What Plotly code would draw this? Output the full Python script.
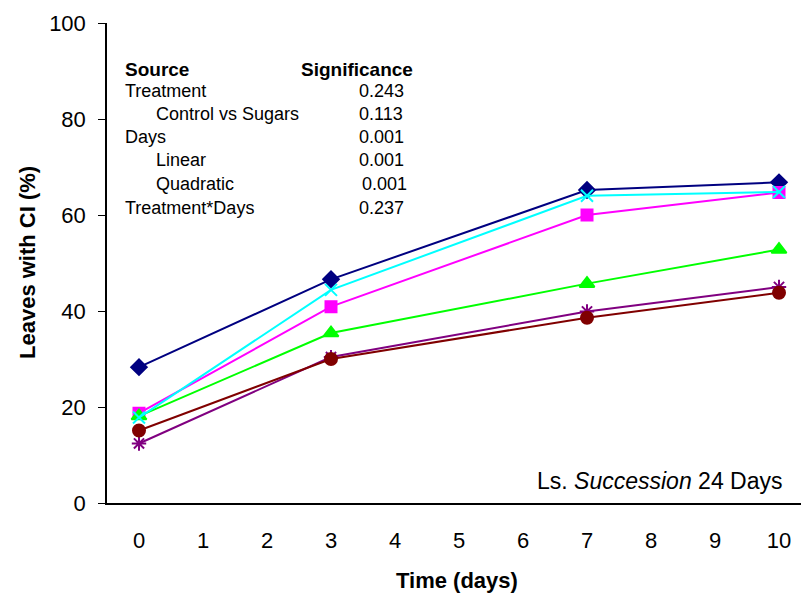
import plotly.graph_objects as go

# Sampling days and percentage of leaves showing chilling injury
days = [0, 3, 7, 10]
series_names = ["Series 1", "Series 2", "Series 3", "Series 4", "Series 5", "Series 6"]
navy_vals = [28.3, 46.6, 65.2, 66.8]
magenta_vals = [18.7, 40.9, 60.0, 64.7]
green_vals = [18.1, 35.4, 45.7, 52.8]
cyan_vals = [17.8, 44.4, 64.0, 64.8]
purple_vals = [12.4, 30.4, 39.9, 45.0]
maroon_vals = [15.1, 30.0, 38.6, 43.8]

x_ticks = list(range(0, 11))
y_ticks = [0, 20, 40, 60, 80, 100]

# ANOVA summary table
table_rows = [
    ("Treatment", "0.243", 0),
    ("Control vs Sugars", "0.113", 1),
    ("Days", "0.001", 0),
    ("Linear", "0.001", 1),
    ("Quadratic", "0.001", 1),
    ("Treatment*Days", "0.237", 0),
]

styles = [
    (navy_vals, "#000080", "diamond", 12),
    (magenta_vals, "#FF00FF", "square", 11),
    (green_vals, "#00FF00", "triangle-up", 13),
    (cyan_vals, "#00FFFF", "x-thin-open", 12),
    (purple_vals, "#800080", "asterisk-open", 12),
    (maroon_vals, "#800000", "circle", 12),
]

fig = go.Figure()
for name, (vals, color, symbol, size) in zip(series_names, styles):
    fig.add_trace(go.Scatter(
        x=days, y=vals, name=name, mode="lines+markers",
        line=dict(color=color, width=2),
        marker=dict(symbol=symbol, size=size, color=color,
                    line=dict(color=color, width=2)),
        showlegend=False,
    ))

FONT = "Liberation Sans, Arial, sans-serif"

# plot area in pixels
L, R, T, B = 107, 801, 23, 503
def px(xp):
    return (xp - L) / (R - L)
def py(yp):
    return (B - yp) / (B - T)

def note(x, y, text, size, anchor="left", angle=0):
    return dict(x=px(x), y=py(y), text=text, showarrow=False,
                xref="paper", yref="paper", xanchor=anchor, yanchor="middle",
                textangle=angle, font=dict(family=FONT, size=size, color="black"))

ann = [
    note(123, 69, "<b>Source</b>", 19),
    note(299, 69, "<b>Significance</b>", 19),
]
row_y = [91, 114, 137, 160, 184, 208]
for (label, val, indent), yy in zip(table_rows, row_y):
    ann.append(note(123 + 31 * indent, yy, label, 18))
    ann.append(note(360 if label == "Quadratic" else 357, yy, val, 18))

ann.append(note(784, 481, "Ls. <i>Succession</i> 24 Days", 23, anchor="right"))
ann.append(note(457, 580, "<b>Time (days)</b>", 22, anchor="center"))
ann.append(note(27, 263, "<b>Leaves with CI (%)</b>", 22, anchor="center", angle=-90))

fig.update_layout(
    width=801, height=596,
    margin=dict(l=L, r=801 - R, t=T, b=596 - B),
    paper_bgcolor="white", plot_bgcolor="white",
    font=dict(family=FONT, color="black"),
    annotations=ann,
    xaxis=dict(
        range=[-0.5, -0.5 + (R - L) / 64.0],
        tickvals=x_ticks, ticks="", showgrid=False, zeroline=False,
        showline=True, linecolor="black", linewidth=1.5,
        tickfont=dict(family=FONT, size=22, color="black"),
        ticklabelstandoff=17,
    ),
    yaxis=dict(
        range=[0, 100], tickvals=y_ticks, ticks="outside", ticklen=7,
        tickcolor="black", tickwidth=1, showgrid=False, zeroline=False,
        showline=True, linecolor="black", linewidth=1.5,
        tickfont=dict(family=FONT, size=22, color="black"),
        ticklabelstandoff=8,
    ),
)

fig.write_html("out.html")
